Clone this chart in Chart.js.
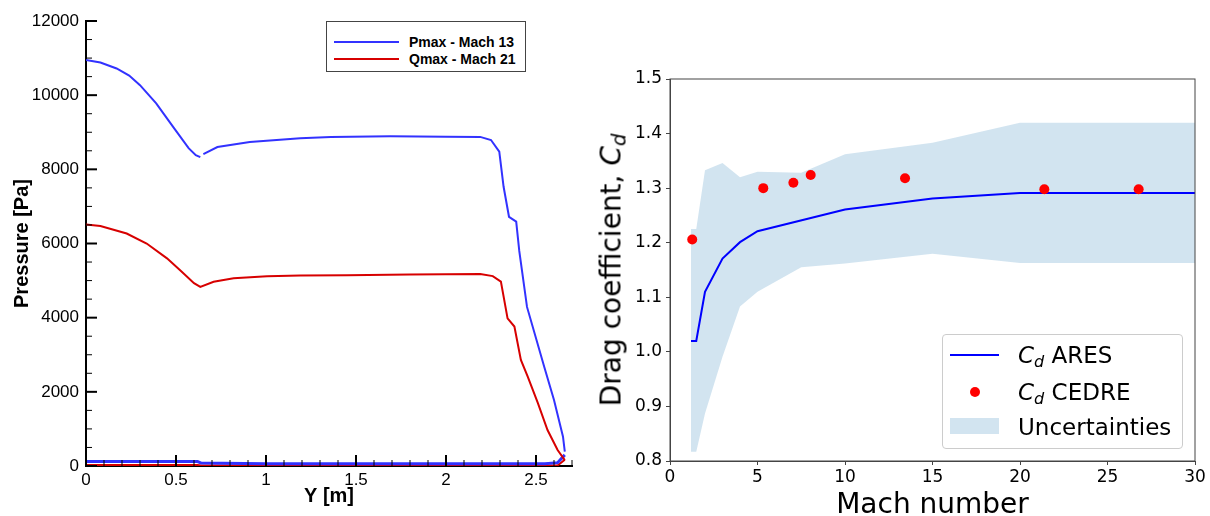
<!DOCTYPE html>
<html lang="en">
<head>
  <meta charset="UTF-8" />
  <title>Pressure and drag coefficient</title>
  <script src="https://cdn.jsdelivr.net/npm/chart.js"></script>
  <style>
    body { margin: 0; background: white; }
    #wrap { position: relative; width: 1210px; height: 516px; overflow: hidden; }
    .pane { position: absolute; top: 0; height: 516px; }
    #tickLayer { position: absolute; left: 0; top: 0; width: 590px; height: 516px; pointer-events: none; }
    .legend-left {
      position: absolute; left: 326px; top: 21px; width: 198px; height: 49px;
      border: 1px solid #444; background: white;
      font: bold 14px 'Liberation Sans', Arial, sans-serif; color: #000;
    }
    .legend-left .row { position: absolute; left: 0; height: 16px; line-height: 16px; }
    .legend-left .swatch { position: absolute; left: 7px; width: 65px; height: 2px; top: 7px; }
    .legend-left .txt { position: absolute; left: 82px; white-space: nowrap; }
    .legend-right {
      position: absolute; left: 942px; top: 334px; width: 239px; height: 113px;
      border: 1px solid #ccc; border-radius: 4px; background: rgba(255,255,255,0.8);
      font: 23px 'DejaVu Sans', sans-serif; color: #000;
    }
    .legend-right .row { position: absolute; left: 0; width: 100%; height: 30px; }
    .legend-right .txt { position: absolute; left: 75px; top: 0; line-height: 30px; white-space: nowrap; }
    .ytitle-right {
      position: absolute; left: 611px; top: 270px; transform: translate(-50%, -50%) rotate(-90deg);
      font: 28px 'DejaVu Sans', sans-serif; white-space: nowrap; color: #000;
    }
    sub { font-size: 0.7em; vertical-align: -0.25em; line-height: 0; }
  </style>
</head>
<body>
<div id="wrap">
  <div class="pane" style="left:0;width:590px"><canvas id="pressureChart"></canvas></div>
  <div class="pane" style="left:590px;width:620px"><canvas id="dragChart"></canvas></div>
  <canvas id="tickLayer" width="590" height="516"></canvas>

  <div class="legend-left">
    <div class="row" style="top:12px"><div class="swatch" style="background:rgb(50,50,255)"></div><span class="txt">Pmax - Mach 13</span></div>
    <div class="row" style="top:29px"><div class="swatch" style="background:rgb(215,0,0)"></div><span class="txt">Qmax - Mach 21</span></div>
  </div>

  <div class="ytitle-right">Drag coefficient, <i>C</i><sub><i>d</i></sub></div>

  <div class="legend-right">
    <div class="row" style="top:5px">
      <div style="position:absolute;left:7px;top:14px;width:49px;height:2px;background:blue"></div>
      <span class="txt"><i>C</i><sub><i>d</i></sub> ARES</span>
    </div>
    <div class="row" style="top:42px">
      <div style="position:absolute;left:27px;top:10px;width:10px;height:10px;border-radius:50%;background:red"></div>
      <span class="txt"><i>C</i><sub><i>d</i></sub> CEDRE</span>
    </div>
    <div class="row" style="top:77px">
      <div style="position:absolute;left:7px;top:6px;width:49px;height:16px;background:rgba(31,119,180,0.2)"></div>
      <span class="txt">Uncertainties</span>
    </div>
  </div>
</div>

<script>
  // ---- left chart: pressure along Y ----
  const pmaxY = [0, 0.08, 0.17, 0.24, 0.30, 0.39, 0.485, 0.57, 0.61, 0.635, 0.644, 0.652, 0.73, 0.91, 1.19, 1.36, 1.69, 2.0, 2.19, 2.25, 2.296, 2.32, 2.35, 2.39, 2.407, 2.45, 2.546, 2.60, 2.65, 2.66];
  const pmaxP = [10950, 10880, 10720, 10530, 10270, 9780, 9140, 8570, 8380, 8330, null, 8410, 8600, 8740, 8840, 8875, 8890, 8880, 8875, 8790, 8475, 7530, 6720, 6590, 5800, 4290, 2670, 1780, 790, 385];
  const qmaxY = [0, 0.08, 0.226, 0.337, 0.45, 0.523, 0.60, 0.635, 0.709, 0.82, 1.006, 1.19, 1.45, 1.8, 2.19, 2.26, 2.305, 2.342, 2.38, 2.416, 2.454, 2.51, 2.564, 2.62, 2.66];
  const qmaxP = [6510, 6470, 6270, 6000, 5600, 5280, 4930, 4830, 4970, 5060, 5120, 5140, 5145, 5165, 5175, 5120, 4970, 3980, 3760, 2860, 2410, 1700, 970, 430, 160];
  // wall branch near zero
  const pmaxBaseY = [0, 0.62, 0.64, 1.0, 2.55, 2.62, 2.66];
  const pmaxBaseP = [120, 120, 80, 60, 60, 90, 300];
  const qmaxBaseY = [0, 0.62, 0.64, 2.62, 2.66];
  const qmaxBaseP = [30, 30, 15, 15, 170];
  const yTicksLeft = [0, 0.5, 1, 1.5, 2, 2.5];
  const pTicks = [0, 2000, 4000, 6000, 8000, 10000, 12000];

  // ---- right chart: drag coefficient vs Mach ----
  const machAres = [1.2, 1.5, 2, 3, 4, 5, 10, 15, 20, 30];
  const cdAres = [1.02, 1.02, 1.11, 1.171, 1.201, 1.221, 1.261, 1.281, 1.291, 1.291];
  const machCedre = [1.27, 5.33, 7.05, 8.04, 13.43, 21.39, 26.78];
  const cdCedre = [1.206, 1.300, 1.310, 1.324, 1.318, 1.298, 1.298];
  const machBand = [1.2, 1.5, 2, 3, 4, 5, 7.5, 10, 15, 20, 30];
  const cdUpper = [1.225, 1.225, 1.333, 1.346, 1.32, 1.33, 1.328, 1.362, 1.383, 1.42, 1.42];
  const cdLower = [0.817, 0.817, 0.887, 0.991, 1.083, 1.11, 1.155, 1.162, 1.18, 1.163, 1.163];
  const machTicks = [0, 5, 10, 15, 20, 25, 30];
  const cdTicks = [0.8, 0.9, 1.0, 1.1, 1.2, 1.3, 1.4, 1.5];

  const pts = (xs, ys) => xs.map((x, i) => ({ x, y: ys[i] }));
  const setTicks = arr => scale => { scale.ticks = arr.map(v => ({ value: v })); };

  const BLUE = 'rgb(50,50,255)', RED = 'rgb(215,0,0)';
  const helv = "'Liberation Sans', Arial, sans-serif";
  const deja = "'DejaVu Sans', sans-serif";

  const boxFrame = {
    id: 'boxFrame',
    afterDraw(chart) {
      const ctx = chart.ctx, a = chart.chartArea;
      ctx.save();
      ctx.strokeStyle = '#444';
      ctx.lineWidth = 1;
      ctx.strokeRect(a.left, a.top, a.right - a.left, a.bottom - a.top);
      ctx.restore();
    }
  };

  const lineDs = (data, color, width) => ({
    data, borderColor: color, backgroundColor: color, borderWidth: width,
    showLine: true, pointRadius: 0, tension: 0, spanGaps: false
  });

  const pressure = new Chart(document.getElementById('pressureChart'), {
    type: 'scatter',
    data: {
      datasets: [
        lineDs(pts(pmaxY, pmaxP), BLUE, 2),
        lineDs(pts(qmaxY, qmaxP), RED, 2),
        lineDs(pts(pmaxBaseY, pmaxBaseP), BLUE, 3),
        lineDs(pts(qmaxBaseY, qmaxBaseP), RED, 2)
      ]
    },
    options: {
      responsive: true, maintainAspectRatio: false, animation: false,
      layout: { padding: { top: 21, right: 18, left: 0, bottom: 0 } },
      plugins: { legend: { display: false }, tooltip: { enabled: false } },
      scales: {
        x: {
          type: 'linear', min: 0, max: 2.7,
          afterBuildTicks: setTicks(yTicksLeft),
          afterFit: s => { s.height = 50; },
          grid: { drawOnChartArea: false, drawTicks: false },
          border: { color: '#000', width: 2 },
          ticks: { color: '#000', padding: 4, font: { family: helv, size: 17 }, callback: v => String(v) },
          title: { display: true, text: 'Y [m]', color: '#000', padding: { top: 0, bottom: 8 },
                   font: { family: helv, size: 20, weight: 'bold', lineHeight: 1.2 } }
        },
        y: {
          type: 'linear', min: 0, max: 12000,
          afterBuildTicks: setTicks(pTicks),
          afterFit: s => { s.width = 86; },
          grid: { drawOnChartArea: false, drawTicks: false },
          border: { color: '#000', width: 2 },
          ticks: { color: '#000', padding: 7, font: { family: helv, size: 17 }, callback: v => String(v) },
          title: { display: true, text: 'Pressure [Pa]', color: '#000', padding: { top: 10, bottom: 0 },
                   font: { family: helv, size: 20, weight: 'bold', lineHeight: 1.2 } }
        }
      }
    }
  });

  new Chart(document.getElementById('dragChart'), {
    type: 'scatter',
    data: {
      datasets: [
        { label: 'Cd CEDRE', data: pts(machCedre, cdCedre), pointRadius: 5, pointBackgroundColor: 'red', pointBorderWidth: 0, showLine: false },
        Object.assign(lineDs(pts(machAres, cdAres), 'blue', 2), { label: 'Cd ARES' }),
        { label: 'Uncertainties', data: pts(machBand, cdUpper), showLine: true, pointRadius: 0, borderWidth: 0,
          borderColor: 'rgba(0,0,0,0)', backgroundColor: 'rgba(31,119,180,0.2)', fill: '+1' },
        { label: 'lower', data: pts(machBand, cdLower), showLine: true, pointRadius: 0, borderWidth: 0,
          borderColor: 'rgba(0,0,0,0)', fill: false }
      ]
    },
    options: {
      responsive: true, maintainAspectRatio: false, animation: false,
      layout: { padding: { top: 79, right: 15, left: 0, bottom: 0 } },
      plugins: { legend: { display: false }, tooltip: { enabled: false } },
      scales: {
        x: {
          type: 'linear', min: 0, max: 30,
          afterBuildTicks: setTicks(machTicks),
          afterFit: s => { s.height = 55; },
          grid: { drawOnChartArea: false, tickLength: 4, tickColor: '#444' },
          border: { color: '#444', width: 1 },
          ticks: { color: '#000', padding: 2, font: { family: deja, size: 17 } },
          title: { display: true, text: 'Mach number', color: '#000', padding: { top: 0, bottom: 0 },
                   font: { family: deja, size: 28, lineHeight: 0.7 } }
        },
        y: {
          type: 'linear', min: 0.8, max: 1.5,
          afterBuildTicks: setTicks(cdTicks),
          afterFit: s => { s.width = 80; },
          grid: { drawOnChartArea: false, tickLength: 4, tickColor: '#444' },
          border: { color: '#444', width: 1 },
          ticks: { color: '#000', padding: 4, font: { family: deja, size: 17 }, callback: v => v.toFixed(1) }
        }
      }
    },
    plugins: [boxFrame]
  });

  // tecplot-like ticks pointing into the plot, on a layer above the pressure chart,
  // placed with the chart's own scales
  function drawInnerTicks() {
    const layer = document.getElementById('tickLayer');
    const ctx = layer.getContext('2d');
    const a = pressure.chartArea, sx = pressure.scales.x, sy = pressure.scales.y;
    ctx.clearRect(0, 0, layer.width, layer.height);
    ctx.strokeStyle = '#000';
    for (let i = 0; i <= 27; i++) {
      const px = sx.getPixelForValue(i / 10);
      const big = i % 5 === 0;
      ctx.lineWidth = big ? 2 : 1;
      ctx.beginPath(); ctx.moveTo(px, a.bottom); ctx.lineTo(px, a.bottom - (big ? 11 : 6)); ctx.stroke();
    }
    for (let i = 0; i <= 24; i++) {
      const py = sy.getPixelForValue(i * 500);
      const big = i % 4 === 0;
      ctx.lineWidth = big ? 2 : 1;
      ctx.beginPath(); ctx.moveTo(a.left, py); ctx.lineTo(a.left + (big ? 11 : 6), py); ctx.stroke();
    }
  }
  drawInnerTicks();
  requestAnimationFrame(drawInnerTicks);
  setTimeout(drawInnerTicks, 100);
</script>
</body>
</html>
